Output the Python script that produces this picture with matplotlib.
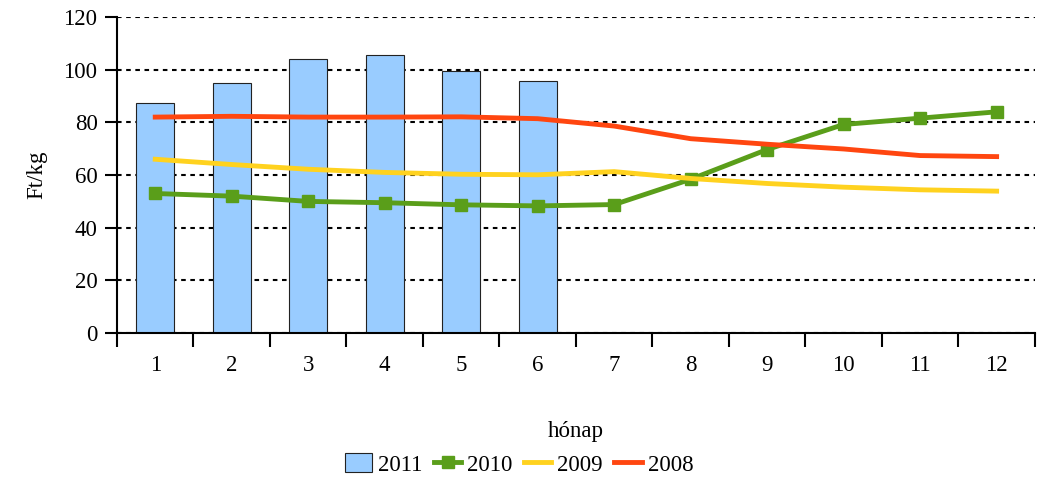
import numpy as np
import matplotlib.pyplot as plt
from matplotlib.ticker import FixedLocator

plt.rcParams['font.family'] = ['Liberation Serif', 'DejaVu Serif']

# data
months = [1, 2, 3, 4, 5, 6, 7, 8, 9, 10, 11, 12]
bars_2011 = [87.4, 95.0, 104.0, 105.6, 99.5, 95.7]
line_2010 = [53.0, 52.0, 50.0, 49.5, 48.7, 48.3, 48.8, 58.4, 69.7, 79.2, 81.6, 84.0]
line_2009 = [66.0, 64.0, 62.2, 61.0, 60.3, 60.1, 61.3, 58.7, 56.8, 55.4, 54.4, 53.9]
line_2008 = [82.0, 82.3, 82.0, 82.0, 82.1, 81.4, 78.6, 73.8, 71.7, 69.9, 67.4, 67.0]

fs = 16.5
fig = plt.figure(figsize=(10.38, 4.8), dpi=100)
ax = fig.add_axes([0.1127, 0.306, 0.8843, 0.6586])

ax.bar(months[:6], bars_2011, width=0.5, color='#99CCFF', edgecolor='#222222', linewidth=0.8, label='2011', zorder=2)
ax.plot(months, line_2010, color='#5A9E1A', lw=3.5, marker='s', ms=8, label='2010', zorder=3)
ax.plot(months, line_2009, color='#FFD21F', lw=3.5, label='2009', zorder=3)
ax.plot(months, line_2008, color='#FF4610', lw=3.5, label='2008', zorder=3)

ax.set_xlim(0.5, 12.5)
ax.set_ylim(0, 120)
ax.set_yticks(np.arange(0, 121, 20))
ax.set_xticks(months)
ax.xaxis.set_minor_locator(FixedLocator(np.arange(0.5, 12.6, 1)))
ax.tick_params(axis='x', which='major', length=0, pad=16, labelsize=fs)
ax.tick_params(axis='x', which='minor', length=10, width=1.5, direction='out')
ax.tick_params(axis='y', length=9, width=1.5, direction='out', pad=5, labelsize=fs)
ax.yaxis.grid(True, linestyle=(0, (2.2, 2.2)), color='black', lw=1.5, zorder=1)
ax.set_axisbelow(True)

for s in ['top', 'right']:
    ax.spines[s].set_visible(False)
for s in ['left', 'bottom']:
    ax.spines[s].set_linewidth(1.5)

ax.set_ylabel('Ft/kg', fontsize=fs, labelpad=12)
ax.set_xlabel('hónap', fontsize=fs, labelpad=32)

handles, labels = ax.get_legend_handles_labels()
order = [3, 0, 1, 2]
fig.legend([handles[i] for i in order], [labels[i] for i in order], loc='center',
           bbox_to_anchor=(0.5, 0.032), ncol=4, frameon=False, fontsize=fs,
           handlelength=1.2, handleheight=0.9, handletextpad=0.25, columnspacing=0.5)

plt.savefig('out.png', dpi=100)
